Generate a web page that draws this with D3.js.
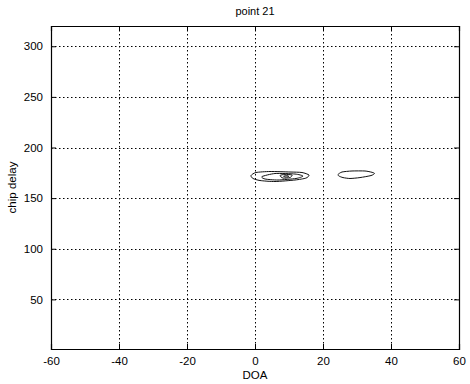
<!DOCTYPE html>
<html>
<head>
<meta charset="utf-8">
<script src="https://cdn.jsdelivr.net/npm/d3@7"></script>
<style>
  html, body { margin: 0; padding: 0; background: #fff; }
  svg { display: block; }
  text { font-family: "Liberation Sans", Arial, sans-serif; fill: #000; }
</style>
</head>
<body>
<script>
const title = "point 21";
const xLabel = "DOA";
const yLabel = "chip delay";
const xDomain = [-60, 60];
const yDomain = [1, 320];
const xTicks = [-60, -40, -20, 0, 20, 40, 60];
const yTicks = [50, 100, 150, 200, 250, 300];

// contour rings: [DOA, chip delay]
const blobAOuter = [[-1.18,172.3],[0.29,175.3],[4.41,176.3],[10.29,175.8],[13.82,175.3],[15.88,172.8],[15.0,169.8],[11.76,167.9],[5.88,166.4],[1.47,167.4],[-0.59,169.4]];
const blobAInner1 = [[2.06,171.3],[5.88,174.3],[11.76,173.8],[14.12,171.8],[12.06,169.4],[6.76,167.9],[2.94,168.9]];
const blobAInner2 = [[7.35,172.3],[8.82,173.5],[10.88,172.8],[10.29,170.3],[8.24,169.8]];
const blobAInner3 = [[8.4,171.6],[9.4,172.2],[10.0,171.3],[9.0,170.8]];
const blobB = [[24.41,173.3],[25.59,175.8],[28.53,176.8],[32.35,176.8],[34.41,175.5],[35.15,174.3],[34.12,172.3],[30.88,170.3],[27.94,169.4],[25.88,170.3],[24.71,171.8]];
const rings = [blobAOuter, blobAInner1, blobAInner2, blobAInner3, blobB];

const W = 470, H = 384;
const m = {left: 51, top: 26, right: 11, bottom: 35};
const iw = W - m.left - m.right, ih = H - m.top - m.bottom;

const svg = d3.select("body").append("svg").attr("width", W).attr("height", H);
const g = svg.append("g").attr("transform", `translate(${m.left},${m.top})`);

const x = d3.scaleLinear().domain(xDomain).range([0, iw]);
const y = d3.scaleLinear().domain(yDomain).range([ih, 0]);

// grid
g.append("g").selectAll("line").data(xTicks.filter(d => d > xDomain[0] && d < xDomain[1])).join("line")
  .attr("x1", d => Math.round(x(d)) + 0.5).attr("x2", d => Math.round(x(d)) + 0.5).attr("y1", 0).attr("y2", ih)
  .attr("stroke", "#000").attr("stroke-width", 1).attr("stroke-dasharray", "1.5,2.5");
g.append("g").selectAll("line").data(yTicks).join("line")
  .attr("y1", d => Math.round(y(d)) + 0.5).attr("y2", d => Math.round(y(d)) + 0.5).attr("x1", 0).attr("x2", iw)
  .attr("stroke", "#000").attr("stroke-width", 1).attr("stroke-dasharray", "1.5,2.5");

// contours
const line = d3.line().x(d => x(d[0])).y(d => y(d[1])).curve(d3.curveCardinalClosed.tension(0.3));
g.append("g").selectAll("path").data(rings).join("path")
  .attr("d", line).attr("fill", "none").attr("stroke", "#111").attr("stroke-width", 1);

// axes with inward ticks
const fmt = d => String(d);
const axB = d3.axisBottom(x).tickValues(xTicks).tickSize(-5).tickPadding(8).tickFormat(fmt);
const axL = d3.axisLeft(y).tickValues(yTicks).tickSize(-5).tickPadding(8).tickFormat(fmt);
const axT = d3.axisTop(x).tickValues(xTicks).tickSize(-5).tickFormat("");
const axR = d3.axisRight(y).tickValues(yTicks).tickSize(-5).tickFormat("");

function style(sel) {
  sel.selectAll("path.domain").attr("stroke", "#000").attr("stroke-width", 1.2);
  sel.selectAll("line").attr("stroke", "#000");
  sel.selectAll("text").attr("font-size", 11.5).attr("font-family", "'Liberation Sans', Arial, sans-serif").attr("fill", "#000");
}
g.append("g").attr("transform", `translate(0,${ih})`).call(axB).call(style);
g.append("g").call(axL).call(style);
g.append("g").call(axT).call(style);
g.append("g").attr("transform", `translate(${iw},0)`).call(axR).call(style);

// labels
svg.append("text").attr("x", m.left + iw / 2).attr("y", 15).attr("text-anchor", "middle").attr("font-size", 11).text(title);
svg.append("text").attr("x", m.left + iw / 2).attr("y", 379).attr("text-anchor", "middle").attr("font-size", 11.5).text(xLabel);
svg.append("text").attr("transform", `translate(16,${m.top + ih / 2}) rotate(-90)`).attr("text-anchor", "middle").attr("font-size", 11.5).text(yLabel);
</script>
</body>
</html>
